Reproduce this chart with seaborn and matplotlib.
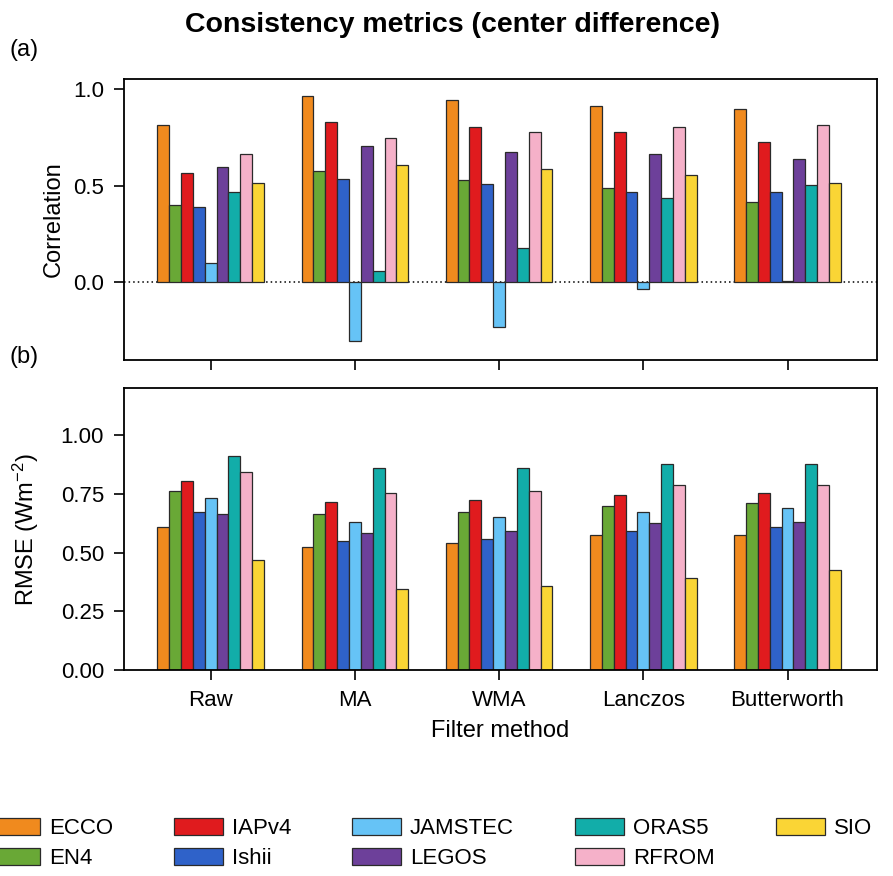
import numpy as np
import pandas as pd
import seaborn as sns
import matplotlib
matplotlib.use("Agg")
import matplotlib.pyplot as plt

methods = ["Raw", "MA", "WMA", "Lanczos", "Butterworth"]
products = ["ECCO", "EN4", "IAPv4", "Ishii", "JAMSTEC", "LEGOS", "ORAS5", "RFROM", "SIO"]
colors = ["#F08A1E", "#69A836", "#E01B1E", "#2F62C9", "#66C3F6",
          "#6D409A", "#12ADA9", "#F5B1C9", "#FAD535"]

# correlation: one list per method, in product order
corr_raw = [0.813, 0.397, 0.566, 0.388, 0.100, 0.597, 0.467, 0.664, 0.515]
corr_ma = [0.964, 0.576, 0.825, 0.536, -0.300, 0.705, 0.060, 0.743, 0.607]
corr_wma = [0.943, 0.526, 0.803, 0.508, -0.232, 0.675, 0.179, 0.774, 0.586]
corr_lanczos = [0.912, 0.487, 0.774, 0.466, -0.033, 0.664, 0.436, 0.803, 0.556]
corr_butter = [0.892, 0.416, 0.726, 0.466, 0.010, 0.636, 0.505, 0.813, 0.515]

# RMSE
rmse_raw = [0.608, 0.763, 0.805, 0.673, 0.731, 0.665, 0.910, 0.845, 0.467]
rmse_ma = [0.525, 0.665, 0.714, 0.549, 0.632, 0.583, 0.861, 0.755, 0.346]
rmse_wma = [0.543, 0.673, 0.723, 0.558, 0.650, 0.590, 0.861, 0.763, 0.360]
rmse_lanczos = [0.575, 0.697, 0.747, 0.590, 0.671, 0.624, 0.878, 0.787, 0.393]
rmse_butter = [0.575, 0.713, 0.755, 0.609, 0.688, 0.632, 0.878, 0.787, 0.427]

corr_all = [corr_raw, corr_ma, corr_wma, corr_lanczos, corr_butter]
rmse_all = [rmse_raw, rmse_ma, rmse_wma, rmse_lanczos, rmse_butter]

rows = []
for m, cvals, rvals in zip(methods, corr_all, rmse_all):
    for p, c, r in zip(products, cvals, rvals):
        rows.append({"method": m, "product": p, "corr": c, "rmse": r})
df = pd.DataFrame(rows)

sns.set_style("ticks")
plt.rcParams["font.family"] = ["Liberation Sans", "DejaVu Sans"]
plt.rcParams["mathtext.fontset"] = "custom"
plt.rcParams["mathtext.rm"] = "Liberation Sans"
plt.rcParams["mathtext.it"] = "Liberation Sans:italic"
for k in ["text.color", "axes.labelcolor", "xtick.color", "ytick.color",
          "axes.edgecolor"]:
    plt.rcParams[k] = "black"

fig = plt.figure(figsize=(8.93, 8.76), dpi=100)
ax1 = fig.add_axes([0.139, 0.589, 0.843, 0.321])
ax2 = fig.add_axes([0.139, 0.235, 0.843, 0.322])

pal = dict(zip(products, colors))
common = dict(x="method", hue="product", order=methods, hue_order=products,
              palette=pal, width=0.74, edgecolor="#2a2a2a", linewidth=0.9,
              saturation=1.0, errorbar=None)

sns.barplot(data=df, y="corr", ax=ax1, legend=False, **common)
sns.barplot(data=df, y="rmse", ax=ax2, legend=True, **common)

ax1.axhline(0, color="black", linestyle=(0, (1, 2)), linewidth=1.1, zorder=0.5)

ax1.set_ylim(-0.4, 1.05)
ax1.set_yticks([0.0, 0.5, 1.0])
ax1.set_yticklabels(["0.0", "0.5", "1.0"])
ax2.set_ylim(0, 1.2)
ax2.set_yticks([0, 0.25, 0.5, 0.75, 1.0])
ax2.set_yticklabels(["0.00", "0.25", "0.50", "0.75", "1.00"])

for ax in (ax1, ax2):
    ax.set_xlim(-0.6, 4.62)
    for s in ax.spines.values():
        s.set_visible(True)
        s.set_linewidth(1.3)
        s.set_color("black")
    ax.tick_params(axis="both", direction="out", length=7.5, width=1.2,
                   labelsize=16, colors="black")
    ax.tick_params(axis="y", pad=7)
    ax.tick_params(axis="x", pad=7)

ax1.set_xticklabels([])
ax1.set_xlabel("")
ax1.set_ylabel("Correlation", fontsize=17, labelpad=6)
ax2.set_ylabel("RMSE (Wm$^{-2}$)", fontsize=17, labelpad=14)
ax2.set_xlabel("Filter method", fontsize=17, labelpad=6)

fig.text(0.507, 0.971, "Consistency metrics (center difference)", ha="center",
         va="center", fontsize=20.5, fontweight="bold")
fig.text(0.011, 0.943, "(a)", ha="left", va="center", fontsize=17)
fig.text(0.011, 0.592, "(b)", ha="left", va="center", fontsize=17)

handles, labels = ax2.get_legend_handles_labels()
ax2.get_legend().remove()
leg = fig.legend(handles, labels, loc="center", bbox_to_anchor=(0.483, 0.037),
                 ncol=5, frameon=False, fontsize=16, handlelength=2.2,
                 handleheight=0.78, handletextpad=0.4, columnspacing=2.75,
                 labelspacing=0.42)

fig.savefig("out.png", dpi=100)
